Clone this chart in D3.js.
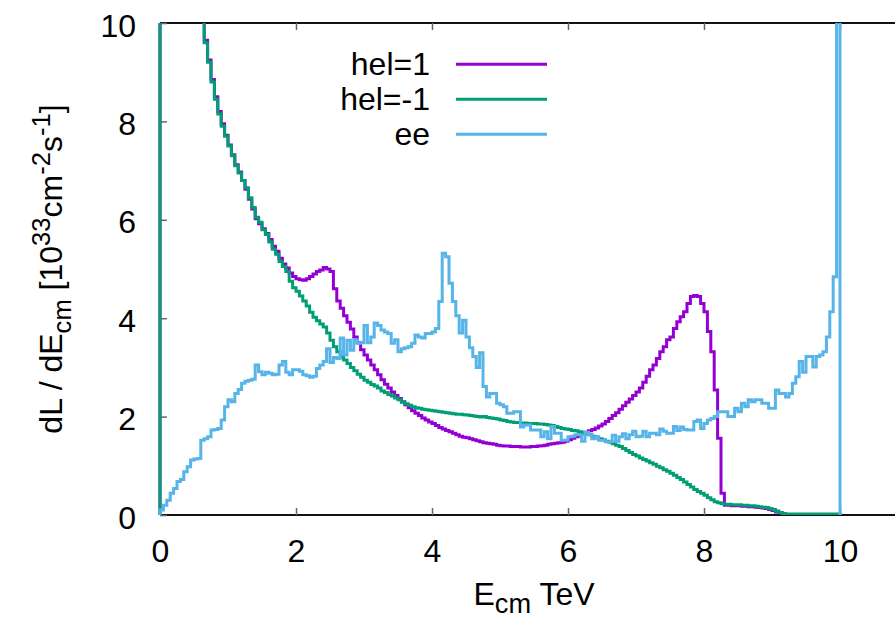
<!DOCTYPE html>
<html>
<head>
<meta charset="utf-8">
<script src="https://cdn.jsdelivr.net/npm/d3@7"></script>
<style>
  body { margin: 0; background: #fff; }
  svg { display: block; }
  text { font-family: "Liberation Sans", Arial, Helvetica, sans-serif; fill: #000; }
</style>
</head>
<body>
<svg id="chart" width="895" height="620"></svg>
<script>
// Luminosity spectra dL/dE_cm, histogrammed in 0.05 TeV bins from 0 to 10 TeV.
const binWidth = 0.05;

const helPlus = [
  58, 29, 21.5, 17.8, 15.8, 14.4, 13.4, 12.5, 11.9, 11.3,
  10.85, 10.45, 10.1, 9.65, 9.25, 8.85, 8.5, 8.2, 7.95, 7.72,
  7.52, 7.32, 7.12, 6.97, 6.8, 6.62, 6.42, 6.22, 6.02, 5.92,
  5.82, 5.72, 5.6, 5.46, 5.36, 5.22, 5.1, 5.02, 4.92, 4.85,
  4.8, 4.78, 4.77, 4.8, 4.85, 4.9, 4.95, 4.98, 5.03, 5.0,
  4.95, 4.6, 4.35, 4.2, 4.05, 3.92, 3.78, 3.62, 3.5, 3.36,
  3.25, 3.15, 3.05, 2.95, 2.85, 2.75, 2.66, 2.58, 2.5, 2.43,
  2.37, 2.3, 2.24, 2.18, 2.12, 2.07, 2.02, 1.97, 1.93, 1.89,
  1.86, 1.82, 1.78, 1.75, 1.72, 1.69, 1.66, 1.63, 1.6, 1.58,
  1.57, 1.55, 1.53, 1.51, 1.49, 1.47, 1.46, 1.45, 1.44, 1.42,
  1.41, 1.4, 1.4, 1.39, 1.39, 1.39, 1.38, 1.38, 1.38, 1.39,
  1.39, 1.4, 1.41, 1.42, 1.44, 1.45, 1.46, 1.47, 1.48, 1.5,
  1.53, 1.56, 1.59, 1.62, 1.65, 1.68, 1.71, 1.74, 1.77, 1.81,
  1.85, 1.9, 1.96, 2.02, 2.08, 2.15, 2.22, 2.29, 2.36, 2.43,
  2.5, 2.58, 2.7, 2.82, 2.95, 3.05, 3.18, 3.32, 3.42, 3.56,
  3.62, 3.79, 3.93, 4.03, 4.13, 4.3, 4.44, 4.46, 4.44, 4.3,
  4.13, 3.73, 3.32, 2.54, 1.56, 0.44, 0.2, 0.2, 0.19, 0.19,
  0.19, 0.18, 0.18, 0.17, 0.17, 0.16, 0.15, 0.14, 0.13, 0.11,
  0.09, 0.06, 0.04, 0.02, 0.01, 0.01, 0.01, 0.01, 0.01, 0.01,
  0.01, 0.01, 0.01, 0.01, 0.01, 0.01, 0.01, 0.01, 0.01, 0.01
];

const helMinus = [
  60, 30, 22, 18, 16, 14.5, 13.5, 12.6, 12, 11.4,
  10.9, 10.5, 10.1, 9.6, 9.2, 8.8, 8.45, 8.15, 7.9, 7.7,
  7.5, 7.3, 7.1, 6.95, 6.8, 6.65, 6.45, 6.25, 6.05, 5.95,
  5.8, 5.7, 5.55, 5.4, 5.3, 5.15, 5.05, 4.95, 4.75, 4.62,
  4.55, 4.45, 4.35, 4.25, 4.12, 4.02, 3.95, 3.88, 3.82, 3.7,
  3.55, 3.42, 3.32, 3.22, 3.15, 3.08, 3.0, 2.93, 2.86, 2.8,
  2.74, 2.7, 2.65, 2.62, 2.58, 2.52, 2.49, 2.45, 2.42, 2.38,
  2.34, 2.29, 2.26, 2.23, 2.2, 2.18, 2.17, 2.15, 2.14, 2.13,
  2.12, 2.11, 2.1, 2.09, 2.08, 2.07, 2.06, 2.05, 2.05, 2.04,
  2.03, 2.02, 2.01, 2.0, 1.99, 2.0, 1.98, 1.97, 1.96, 1.95,
  1.93, 1.92, 1.9, 1.89, 1.88, 1.88, 1.87, 1.87, 1.86, 1.86,
  1.86, 1.85, 1.85, 1.84, 1.83, 1.82, 1.8, 1.78, 1.76, 1.75,
  1.74, 1.72, 1.71, 1.69, 1.67, 1.65, 1.63, 1.6, 1.58, 1.55,
  1.53, 1.5, 1.48, 1.45, 1.42, 1.39, 1.35, 1.31, 1.27, 1.23,
  1.2, 1.16, 1.13, 1.1, 1.06, 1.03, 0.99, 0.96, 0.92, 0.89,
  0.85, 0.81, 0.76, 0.72, 0.67, 0.62, 0.57, 0.52, 0.48, 0.44,
  0.4, 0.35, 0.31, 0.27, 0.25, 0.23, 0.22, 0.22, 0.21, 0.21,
  0.21, 0.2, 0.2, 0.19, 0.19, 0.18, 0.17, 0.16, 0.15, 0.13,
  0.11, 0.08, 0.05, 0.03, 0.02, 0.02, 0.02, 0.02, 0.02, 0.02,
  0.02, 0.02, 0.02, 0.02, 0.02, 0.02, 0.02, 0.02, 0.02, 0.02
];

const eeSpectrum = [
  0.1, 0.2, 0.3, 0.44, 0.54, 0.68, 0.72, 0.88, 0.98, 1.12,
  1.14, 1.15, 1.52, 1.55, 1.59, 1.73, 1.74, 1.76, 1.93, 2.2,
  2.34, 2.3, 2.47, 2.55, 2.68, 2.72, 2.74, 2.76, 3.05, 2.91,
  2.85, 2.9, 2.88, 2.85, 2.86, 3.05, 3.12, 2.9, 2.85, 2.95,
  2.95, 2.92, 2.85, 2.83, 2.8, 2.82, 2.98, 3.05, 3.12, 3.38,
  3.1, 3.2, 3.18, 3.6, 3.25, 3.55, 3.35, 3.56, 3.49, 3.5,
  3.85, 3.5, 3.62, 3.9, 3.85, 3.76, 3.72, 3.69, 3.49, 3.56,
  3.32, 3.38, 3.4, 3.42, 3.49, 3.66, 3.62, 3.6, 3.69, 3.69,
  3.72, 3.79, 4.34, 5.32, 5.25, 4.71, 4.34, 4.05, 3.7, 3.96,
  3.62, 3.4, 3.22, 3.0, 3.3, 2.61, 2.4, 2.47, 2.47, 2.27,
  2.24, 2.2, 2.07, 2.07, 2.1, 2.1, 1.79, 1.83, 1.83, 1.73,
  1.73, 1.73, 1.59, 1.69, 1.55, 1.8, 1.66, 1.66, 1.52, 1.52,
  1.59, 1.6, 1.63, 1.63, 1.5, 1.68, 1.63, 1.55, 1.59, 1.52,
  1.52, 1.49, 1.49, 1.62, 1.5, 1.59, 1.65, 1.55, 1.63, 1.7,
  1.59, 1.6, 1.7, 1.59, 1.66, 1.66, 1.63, 1.75, 1.7, 1.66,
  1.66, 1.8, 1.72, 1.79, 1.74, 1.73, 1.73, 1.9, 1.93, 1.76,
  1.86, 1.93, 1.96, 2.0, 2.1, 2.1, 2.1, 2.0, 2.0, 2.17,
  2.1, 2.27, 2.2, 2.34, 2.3, 2.34, 2.34, 2.27, 2.27, 2.17,
  2.17, 2.54, 2.47, 2.47, 2.4, 2.47, 2.68, 2.81, 3.12, 2.9,
  3.22, 3.22, 3.01, 3.22, 3.25, 3.32, 3.62, 4.13, 4.84, 60
];

const xTicks = [0, 2, 4, 6, 8, 10];
const yTicks = [0, 2, 4, 6, 8, 10];
const seriesNames = ["hel=1", "hel=-1", "ee"];
const seriesColors = ["#9400d3", "#009e73", "#56b4e9"];
const seriesValues = [helPlus, helMinus, eeSpectrum];

const svg = d3.select("#chart");
const FONT = 32;

const x = d3.scaleLinear().domain([0, 11]).range([160, 908]);
const y = d3.scaleLinear().domain([0, 10]).range([515, 23]);

// plot frame (left, bottom and top borders)
const frame = svg.append("g").attr("stroke", "#111").attr("stroke-width", 2).attr("fill", "none");
frame.append("line").attr("x1", x(0)).attr("x2", x(11)).attr("y1", y(10)).attr("y2", y(10));
frame.append("line").attr("x1", x(0)).attr("x2", x(11)).attr("y1", y(0)).attr("y2", y(0));
frame.append("line").attr("x1", x(0)).attr("x2", x(0)).attr("y1", y(0)).attr("y2", y(10));

// inward ticks
function styleAxis(g) {
  g.select(".domain").remove();
  g.selectAll(".tick line").attr("stroke", "#666").attr("stroke-width", 1.5);
  g.selectAll(".tick text").attr("font-size", FONT).attr("font-family", null).attr("fill", "#000");
}
svg.append("g").attr("transform", `translate(${x(0)},0)`)
  .call(d3.axisLeft(y).tickValues(yTicks).tickSize(-7).tickPadding(24).tickFormat(d3.format("d")))
  .call(styleAxis)
  .call(g => g.selectAll(".tick text").attr("dy", "0.41em"));
svg.append("g").attr("transform", `translate(0,${y(0)})`)
  .call(d3.axisBottom(x).tickValues(xTicks).tickSize(-7).tickPadding(24).tickFormat(d3.format("d")))
  .call(styleAxis);
svg.append("g").attr("transform", `translate(0,${y(10)})`)
  .call(d3.axisTop(x).tickValues(xTicks).tickSize(-7).tickFormat(""))
  .call(styleAxis);

// clip curves to the plotting area
svg.append("clipPath").attr("id", "plotArea")
  .append("rect").attr("x", x(0) - 2).attr("y", y(10)).attr("width", x(11) - x(0) + 2).attr("height", y(0) - y(10));

const stepLine = d3.line()
  .x(d => x(d[0]))
  .y(d => y(d[1]))
  .curve(d3.curveStepAfter);

function histPoints(vals) {
  const pts = [[0, 0]];
  vals.forEach((v, i) => pts.push([i * binWidth, v]));
  pts.push([vals.length * binWidth, 0]);
  return pts;
}

const curves = svg.append("g").attr("clip-path", "url(#plotArea)");
seriesValues.forEach((vals, i) => {
  curves.append("path")
    .attr("d", stepLine(histPoints(vals)))
    .attr("fill", "none")
    .attr("stroke", seriesColors[i])
    .attr("stroke-width", 3)
    .attr("stroke-linejoin", "miter");
});

// legend
const legend = svg.append("g");
seriesNames.forEach((name, i) => {
  const ly = 64.3 + i * 35;
  legend.append("text").attr("x", 430).attr("y", ly + 10.7)
    .attr("text-anchor", "end").attr("font-size", FONT).text(name);
  legend.append("line").attr("x1", 456).attr("x2", 547).attr("y1", ly).attr("y2", ly)
    .attr("stroke", seriesColors[i]).attr("stroke-width", 3);
});

// x axis title: E_cm TeV
const xt = svg.append("text").attr("x", (x(0) + x(11)) / 2).attr("y", 605)
  .attr("text-anchor", "middle").attr("font-size", FONT);
xt.append("tspan").text("E");
xt.append("tspan").attr("font-size", FONT * 0.85).attr("dy", 8).text("cm");
xt.append("tspan").attr("dy", -8).text(" TeV");

// y axis title: dL / dE_cm [10^33 cm^-2 s^-1]
const yt = svg.append("text").attr("transform", `translate(62,${(y(0) + y(10)) / 2}) rotate(-90)`)
  .attr("text-anchor", "middle").attr("font-size", FONT);
const parts = [
  ["dL / dE", 0, 1], ["cm", 9, 0.8], [" [10", -9, 1], ["33", -12, 0.8], ["cm", 12, 1],
  ["-2", -12, 0.8], ["s", 12, 1], ["-1", -12, 0.8], ["]", 12, 1]
];
parts.forEach(([t, dy, s]) => {
  yt.append("tspan").attr("dy", dy).attr("font-size", FONT * s).text(t);
});
</script>
</body>
</html>
